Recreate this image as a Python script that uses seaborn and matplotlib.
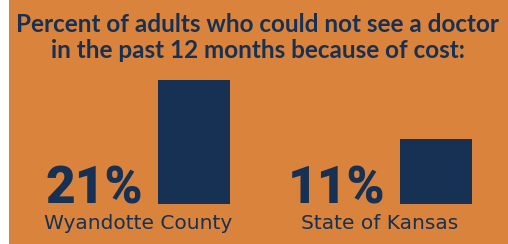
import matplotlib
matplotlib.use("Agg")
import matplotlib.pyplot as plt
from matplotlib.patches import Rectangle
import seaborn as sns
import pandas as pd

# data
places = ["Wyandotte County", "State of Kansas"]
pct_values = [21, 11]
pct_labels = ["21%", "11%"]
title_lines = ["Percent of adults who could not see a doctor",
               "in the past 12 months because of cost:"]

ORANGE = "#DA833C"
NAVY = "#163154"

df = pd.DataFrame({"place": places, "pct": pct_values})

W, H = 508, 244
fig = plt.figure(figsize=(W / 100, H / 100), dpi=100, facecolor=ORANGE)
# white strip on the left edge
fig.patches.append(Rectangle((0, 0), 9 / W, 1, transform=fig.transFigure,
                             facecolor="white", edgecolor="none", zorder=0))

# axes placed so that the bars land where they are in the picture
ax = fig.add_axes([73 / W, 40 / H, 484 / W, 124 / H])
ax.set_facecolor("none")
sns.barplot(data=df, x="place", y="pct", color=NAVY, width=72 / 242,
            saturation=1, ax=ax)
for p in ax.patches:
    p.set_edgecolor("none")
ax.set_xlim(-0.5, 1.5)
ax.set_ylim(0, 21)
ax.axis("off")

half = 72 / 242 / 2
pct_texts = []
for i, lab in enumerate(pct_labels):
    t = ax.annotate(lab, xy=(i - half, 0), xytext=(-15, 0),
                    textcoords="offset pixels", ha="right", va="baseline",
                    fontsize=37, fontweight="black", family="Roboto",
                    color=NAVY)
    pct_texts.append(t)

fig.canvas.draw()
renderer = fig.canvas.get_renderer()
for i, (t, name) in enumerate(zip(pct_texts, places)):
    bb = t.get_window_extent(renderer)
    bar_right = ax.transData.transform((i + half, 0))[0]
    cx = (bb.x0 + bar_right) / 2
    ax.annotate(name, xy=(cx, 40 - 25), xycoords="figure pixels",
                ha="center", va="baseline", fontsize=14.5,
                family="DejaVu Sans", color=NAVY)

for line, yb in zip(title_lines, [32, 58]):
    fig.text(258 / W, 1 - yb / H, line, ha="center", va="baseline",
             fontsize=17.5, fontweight="bold", family="Lato", color=NAVY)

fig.savefig("out.png", dpi=100, facecolor=ORANGE)
